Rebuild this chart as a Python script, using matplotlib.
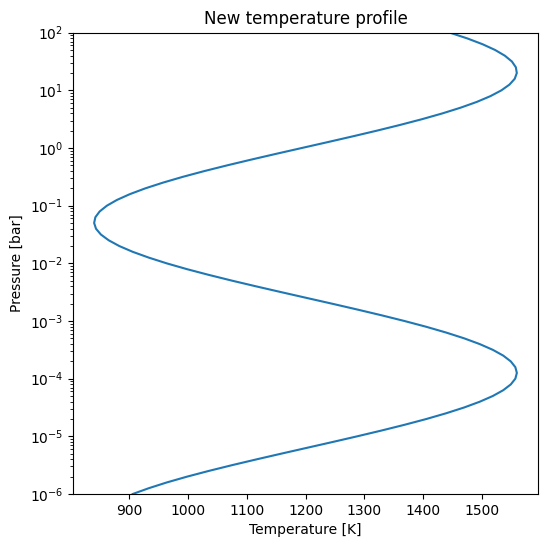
import matplotlib
matplotlib.use("Agg")
import matplotlib.pyplot as plt
import numpy as np

# log10 of pressure [bar] at sample points
log_pressure = [
    -6.0, -5.9, -5.8, -5.7, -5.6, -5.5, -5.4, -5.3, -5.2, -5.1,
    -5.0, -4.9, -4.8, -4.7, -4.6, -4.5, -4.4, -4.3, -4.2, -4.1,
    -4.0, -3.9, -3.8, -3.7, -3.6, -3.5, -3.4, -3.3, -3.2, -3.1,
    -3.0, -2.9, -2.8, -2.7, -2.6, -2.5, -2.4, -2.3, -2.2, -2.1,
    -2.0, -1.9, -1.8, -1.7, -1.6, -1.5, -1.4, -1.3, -1.2, -1.1,
    -1.0, -0.9, -0.8, -0.7, -0.6, -0.5, -0.4, -0.3, -0.2, -0.1,
    0.0, 0.1, 0.2, 0.3, 0.4, 0.5, 0.6, 0.7, 0.8, 0.9,
    1.0, 1.1, 1.2, 1.3, 1.4, 1.5, 1.6, 1.7, 1.8, 1.9, 2.0,
]

# temperature [K]
temperature = [
    905.7, 932.9, 963.6, 997.9, 1035.2, 1074.8, 1116.3, 1158.9, 1202.1, 1245.4,
    1287.9, 1329.2, 1368.6, 1405.6, 1439.5, 1470.1, 1496.7, 1519.1, 1536.8, 1549.6,
    1557.4, 1560.0, 1557.4, 1549.6, 1536.8, 1519.1, 1496.7, 1470.1, 1439.5, 1405.6,
    1368.6, 1329.2, 1287.9, 1245.4, 1202.1, 1158.9, 1116.3, 1074.8, 1035.2, 997.9,
    963.6, 932.9, 905.7, 882.9, 864.8, 851.5, 843.2, 840.0, 842.1, 849.4,
    861.7, 878.9, 900.8, 927.0, 957.3, 990.9, 1027.6, 1066.8, 1107.9, 1150.3,
    1193.5, 1236.8, 1279.5, 1321.1, 1360.9, 1398.4, 1433.0, 1464.3, 1491.8, 1515.0,
    1533.6, 1547.4, 1556.3, 1559.9, 1558.3, 1551.6, 1539.7, 1523.0, 1501.6, 1475.8, 1446.0,
]

title = "New temperature profile"
xlabel = "Temperature [K]"
ylabel = "Pressure [bar]"

pressure = [10.0 ** lp for lp in log_pressure]

fig = plt.figure(figsize=(5.47, 5.47), dpi=100)
ax = fig.add_axes([73 / 547, 1 - 494 / 547, (538 - 73) / 547, (494 - 32.7) / 547])
ax.plot(temperature, pressure, color="#1f77b4", linewidth=1.5)
ax.set_yscale("log")
ax.set_ylim(1e-6, 1e2)
ax.set_xticks([900, 1000, 1100, 1200, 1300, 1400, 1500])
ax.set_xlabel(xlabel)
ax.set_ylabel(ylabel)
ax.set_title(title)

fig.savefig("out.png", dpi=100)
